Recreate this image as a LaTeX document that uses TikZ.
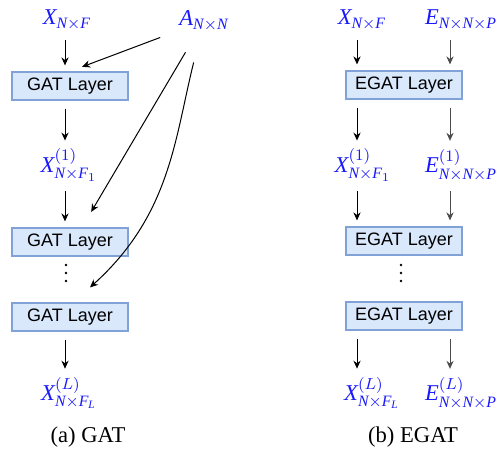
\documentclass[tikz,border=0pt]{standalone}
\usepackage{amsmath}
\usepackage{fontspec}
\setmainfont{Liberation Serif}
\setsansfont{Liberation Sans}
\usetikzlibrary{arrows.meta,positioning,calc}

\definecolor{labelblue}{RGB}{25,25,250}
\definecolor{layerfill}{RGB}{218,232,252}
\definecolor{layerdraw}{RGB}{128,162,214}

% italic letters from the text font
\newcommand{\mv}[1]{\text{\itshape #1}}

\tikzset{
    layer/.style={draw=layerdraw, fill=layerfill, line width=0.6pt,
        minimum width=58pt, minimum height=14pt, inner sep=0pt,
        font=\sffamily\fontsize{9}{10}\selectfont},
    feat/.style={text=labelblue, inner sep=1pt, font=\fontsize{11.3}{13}\selectfont},
    captext/.style={font=\fontsize{11.3}{13}\selectfont},
    flow/.style={-{Stealth[length=4pt,width=3.6pt,inset=1.3pt]}, line width=0.5pt,
        shorten <=4pt, shorten >=3pt},
    eflow/.style={flow, draw=black!70}
}

\begin{document}
\begin{tikzpicture}[x=0.5pt,y=-0.5pt]
    \useasboundingbox (0,0) rectangle (497,449);

    % (a) GAT
    \coordinate (acol) at (65,0);
    \node[feat] (xin) at (67,20) {$\mv{X}_{\mv{N}\times \mv{F}}$};
    \node[feat] (adj) at (204,21) {$\mv{A}_{\mv{N}\times \mv{N}}$};
    \node[layer] (gat1) at (70,86) {GAT Layer};
    \node[feat] (x1) at (69,165) {$\mv{X}^{(1)}_{\mv{N}\times \mv{F}_1}$};
    \node[layer] (gat2) at (70,242) {GAT Layer};
    \node[layer] (gat3) at (70,317) {GAT Layer};
    \node[feat] (xL) at (69,393) {$\mv{X}^{(L)}_{\mv{N}\times \mv{F}_{\mv{L}}}$};
    \node[captext] (capa) at (88,437) {(a) GAT};
    \foreach \y in {265,273,281}
        \fill (66,\y) circle (1.4);

    \draw[flow] (xin.south -| acol) -- (gat1.north -| acol);
    \draw[flow] (gat1.south -| acol) -- (x1.north -| acol);
    \draw[flow] (x1.south -| acol) -- (gat2.north -| acol);
    \draw[flow] (gat3.south -| acol) -- (xL.north -| acol);
    \draw[flow, shorten <=9pt, shorten >=6.5pt] (adj) -- (gat1.north);
    \draw[flow, shorten <=11pt, shorten >=9pt] (adj) -- ([xshift=6pt]gat2.north);
    \draw[flow, shorten <=15pt, shorten >=0pt] (adj) to[out=-104,in=42]
        ([shift={(10pt,7.5pt)}]gat3.north);

    % (b) EGAT
    \coordinate (xcol) at (357,0);
    \coordinate (ecol) at (450,0);
    \node[feat] (xb0) at (362,20) {$\mv{X}_{\mv{N}\times \mv{F}}$};
    \node[feat] (eb0) at (461,20) {$\mv{E}_{\mv{N}\times \mv{N}\times \mv{P}}$};
    \node[layer] (egat1) at (404,85) {EGAT Layer};
    \node[feat] (xb1) at (363,165) {$\mv{X}^{(1)}_{\mv{N}\times \mv{F}_1}$};
    \node[feat] (eb1) at (461,165) {$\mv{E}^{(1)}_{\mv{N}\times \mv{N}\times \mv{P}}$};
    \node[layer] (egat2) at (404,241) {EGAT Layer};
    \node[layer] (egat3) at (404,316) {EGAT Layer};
    \node[feat] (xbL) at (372,393) {$\mv{X}^{(L)}_{\mv{N}\times \mv{F}_{\mv{L}}}$};
    \node[feat] (ebL) at (461,393) {$\mv{E}^{(L)}_{\mv{N}\times \mv{N}\times \mv{P}}$};
    \node[captext] (capb) at (413,437) {(b) EGAT};
    \foreach \y in {265,273,281}
        \fill (401,\y) circle (1.4);

    \draw[flow] (xb0.south -| xcol) -- (egat1.north -| xcol);
    \draw[flow] (egat1.south -| xcol) -- (xb1.north -| xcol);
    \draw[flow] (xb1.south -| xcol) -- (egat2.north -| xcol);
    \draw[flow] (egat3.south -| xcol) -- (xbL.north -| xcol);
    \draw[eflow] (eb0.south -| ecol) -- (egat1.north -| ecol);
    \draw[eflow] (egat1.south -| ecol) -- (eb1.north -| ecol);
    \draw[eflow] (eb1.south -| ecol) -- (egat2.north -| ecol);
    \draw[eflow] (egat3.south -| ecol) -- (ebL.north -| ecol);
\end{tikzpicture}
\end{document}
